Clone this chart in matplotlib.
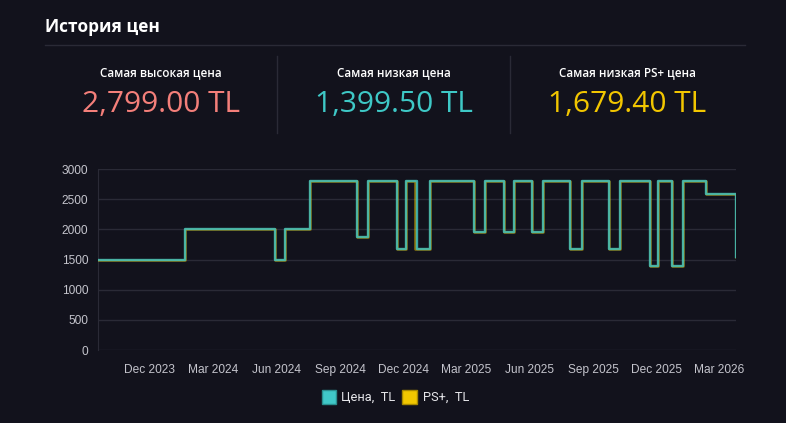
import matplotlib
matplotlib.use("Agg")
import matplotlib.pyplot as plt
import matplotlib.dates as mdates
from matplotlib.patches import Rectangle
from matplotlib.lines import Line2D
import pandas as pd

plt.rcParams['font.family'] = ['Open Sans', 'DejaVu Sans']

# ---- data ----
change_dates = ["2023-09-17", "2024-01-21", "2024-05-30", "2024-06-13", "2024-07-19",
                "2024-09-25", "2024-10-11", "2024-11-22", "2024-12-04", "2024-12-17",
                "2024-12-20", "2025-01-08", "2025-03-13", "2025-03-28", "2025-04-25",
                "2025-05-09", "2025-06-05", "2025-06-20", "2025-07-30", "2025-08-15",
                "2025-09-24", "2025-10-10", "2025-11-22", "2025-12-03", "2025-12-23",
                "2026-01-09", "2026-02-10", "2026-03-26"]
price_values = [1499, 1999, 1499, 1999, 2799,
                1875, 2799, 1679.4, 2799, 2799,
                1679.4, 2799, 1959.3, 2799, 1959.3,
                2799, 1959.3, 2799, 1679.4, 2799,
                1679.4, 2799, 1399.5, 2799, 1399.5,
                2799, 2585, 1549]
psplus_values = [1499, 1999, 1499, 1999, 2799,
                 1875, 2799, 1679.4, 2799, 1679.4,
                 1679.4, 2799, 1959.3, 2799, 1959.3,
                 2799, 1959.3, 2799, 1679.4, 2799,
                 1679.4, 2799, 1399.5, 2799, 1399.5,
                 2799, 2585, 1549]
x_ticks = ["2023-12-01", "2024-03-01", "2024-06-01", "2024-09-01", "2024-12-01",
           "2025-03-01", "2025-06-01", "2025-09-01", "2025-12-01", "2026-03-01"]
y_ticks = [0, 500, 1000, 1500, 2000, 2500, 3000]

stat_labels = ["Самая высокая цена", "Самая низкая цена", "Самая низкая PS+ цена"]
stat_values = ["2,799.00 TL", "1,399.50 TL", "1,679.40 TL"]
stat_colors = ["#f47f7a", "#3ec8c6", "#f2c600"]
legend_labels = ["Цена,  TL", "PS+,  TL"]

BG = "#12121c"
GRID = "#2a2a36"
TEAL = "#40c8c8"
YELLOW = "#f2c800"

W, H = 786, 423
fig = plt.figure(figsize=(W / 100, H / 100), dpi=100, facecolor=BG)

def fx(px):
    return px / W

def fy(py):
    return 1 - py / H

# title
fig.text(fx(45), fy(27), "История цен", color="white", fontsize=12.4, fontweight="bold",
         ha="left", va="center")
fig.add_artist(Line2D([fx(45), fx(745)], [fy(45), fy(45)], color=GRID, lw=1))

# stats
centers = [161, 394, 627]
for c, lab, val, col in zip(centers, stat_labels, stat_values, stat_colors):
    fig.text(fx(c), fy(72.5), lab, color="white", fontsize=8.4, fontweight="semibold",
             ha="center", va="center")
    fig.text(fx(c), fy(104), val, color=col, fontsize=21.5, ha="center", va="center")
for sx in [277, 510.5]:
    fig.add_artist(Line2D([fx(sx), fx(sx)], [fy(56), fy(133)], color=GRID, lw=1))

# chart
ax = fig.add_axes([fx(98), fy(350), fx(736) - fx(98), fy(169) - fy(350)])
ax.set_facecolor(BG)
d = pd.to_datetime(change_dates)
ax.plot(d, psplus_values, drawstyle="steps-post", color=YELLOW, lw=1.8, alpha=0.55, zorder=3)
ax.plot(d, price_values, drawstyle="steps-post", color=TEAL, lw=1.7, alpha=0.8, zorder=4)
ax.set_xlim(d[0], d[-1])
ax.set_ylim(0, 3000)
ax.set_yticks(y_ticks)
ax.set_xticks(pd.to_datetime(x_ticks))
ax.xaxis.set_major_formatter(mdates.DateFormatter("%b %Y"))
ax.grid(axis="y", color=GRID, lw=1)
ax.set_axisbelow(True)
for s in ["top", "right", "bottom"]:
    ax.spines[s].set_visible(False)
ax.spines["left"].set_color(GRID)
ax.tick_params(axis="both", length=0, colors="#c4c4cc", labelsize=8.6)
ax.tick_params(axis="y", pad=7)
ax.tick_params(axis="x", pad=10)
for t in ax.get_xticklabels() + ax.get_yticklabels():
    t.set_fontfamily(["Liberation Sans", "DejaVu Sans"])

# legend
boxes = [(321.5, TEAL, "#2a8f8f"), (402.5, YELLOW, "#a88a00")]
text_x = [341, 423]
for (bx, fc, ec), tx, lab in zip(boxes, text_x, legend_labels):
    fig.add_artist(Rectangle((fx(bx), fy(404)), fx(14.5), fy(389.5) - fy(404),
                             facecolor=fc, edgecolor=ec, lw=1, transform=fig.transFigure))
    fig.text(fx(tx), fy(397), lab, color="#e6e6ea", fontsize=9.3,
             family=["Roboto", "DejaVu Sans"], ha="left", va="center")

fig.savefig("out.png", dpi=100, facecolor=BG)
